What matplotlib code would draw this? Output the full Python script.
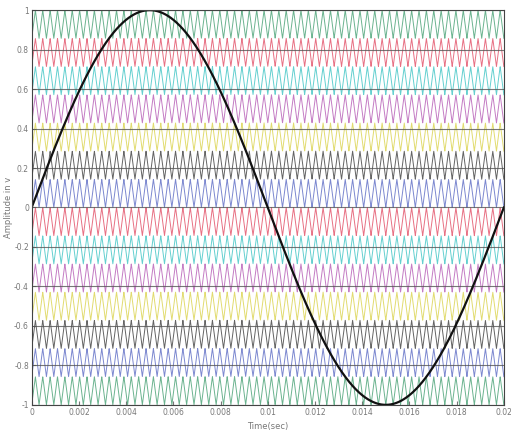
import numpy as np
import matplotlib
matplotlib.use("Agg")
import matplotlib.pyplot as plt

# reference sine
f_ref = 50.0          # Hz
amp_ref = 1.0
# triangular carriers
f_car = 3200.0        # Hz
n_carriers = 14
carrier_colors = ["#3a9a6a", "#e0405a", "#30c0c0", "#b050b0", "#d8d040", "#303030", "#5060c0",
                  "#e0405a", "#30c0c0", "#b050b0", "#d8d040", "#303030", "#5060c0", "#3a9a6a"]

x_ticks = [0, 0.002, 0.004, 0.006, 0.008, 0.01, 0.012, 0.014, 0.016, 0.018, 0.02]
y_ticks = [-1, -0.8, -0.6, -0.4, -0.2, 0, 0.2, 0.4, 0.6, 0.8, 1]

t = np.linspace(0, 0.02, 8000)
ref = amp_ref * np.sin(2 * np.pi * f_ref * t)

# unit triangle wave 0..1
phase = (t * f_car) % 1.0
tri = 1 - 2 * np.abs(phase - 0.5)

fig = plt.figure(figsize=(5.11, 4.41), dpi=100)
ax = fig.add_axes([0.062, 0.082, 0.924, 0.895])

band = 2.0 / n_carriers
for k in range(n_carriers):
    top = 1 - k * band
    ax.plot(t, top - band + band * tri, color=carrier_colors[k], lw=0.7, alpha=0.75)

for yv in y_ticks:
    ax.axhline(yv, color="#555555", lw=0.8, alpha=0.8)

ax.plot(t, ref, color="#111111", lw=1.6)

ax.set_xlim(0, 0.02)
ax.set_ylim(-1, 1)
ax.set_xticks(x_ticks)
ax.set_xticklabels(["0", "0.002", "0.004", "0.006", "0.008", "0.01", "0.012", "0.014", "0.016", "0.018", "0.02"])
ax.set_yticks(y_ticks)
ax.set_yticklabels(["-1", "-0.8", "-0.6", "-0.4", "-0.2", "0", "0.2", "0.4", "0.6", "0.8", "1"])
ax.tick_params(labelsize=5.5, colors="#777777", length=3, direction="in", pad=2)
for s in ax.spines.values():
    s.set_color("#444444")
    s.set_linewidth(0.8)
ax.set_xlabel("Time(sec)", fontsize=6, color="#777777", labelpad=4)
ax.set_ylabel("Amplitude in v", fontsize=6, color="#777777", labelpad=1)

fig.savefig("out.png", dpi=100)
